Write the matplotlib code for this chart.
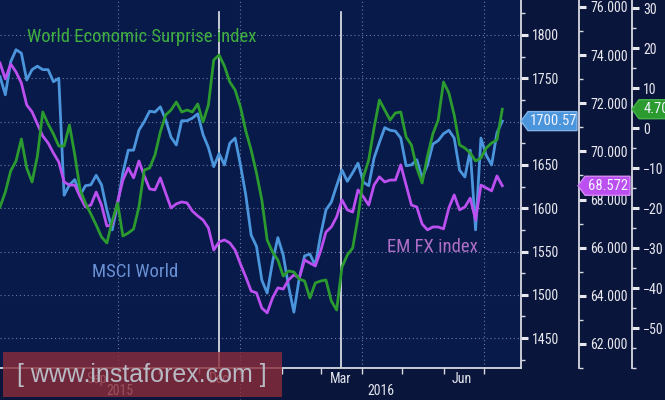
import matplotlib
matplotlib.use("Agg")
import matplotlib.pyplot as plt
import matplotlib.dates as mdates
import matplotlib.transforms as mtransforms
from matplotlib.patches import Rectangle, Polygon
from matplotlib.ticker import MultipleLocator, FixedLocator, FixedFormatter, FuncFormatter
import pandas as pd

plt.rcParams["font.family"] = ["Roboto Condensed", "Archivo Narrow", "Asap Condensed", "DejaVu Sans"]

# -- data (every 4 days) --
dates = pd.date_range("2015-07-05", periods=95, freq="4D")

msci_world = [
    1752, 1731, 1769, 1783, 1779, 1748, 1760, 1764, 1760, 1760,
    1746, 1750, 1615, 1627, 1633, 1615, 1626, 1627, 1638, 1627,
    1598, 1575, 1604, 1641, 1667, 1667, 1690, 1700, 1712, 1711,
    1717, 1702, 1682, 1673, 1701, 1701, 1704, 1709, 1685, 1670,
    1648, 1663, 1650, 1675, 1681, 1650, 1615, 1569, 1556, 1517,
    1502, 1538, 1566, 1546, 1510, 1480, 1519, 1545, 1547, 1534,
    1569, 1598, 1607, 1626, 1644, 1631, 1641, 1652, 1630, 1626,
    1658, 1676, 1693, 1690, 1689, 1681, 1649, 1650, 1656, 1635,
    1650, 1674, 1678, 1686, 1690, 1681, 1644, 1636, 1667, 1575,
    1681, 1661, 1650, 1687, 1700.57,
]

em_fx = [
    73.67, 73.01, 73.63, 73.30, 72.84, 71.93, 71.64, 71.14, 70.64, 70.35,
    69.93, 69.56, 68.73, 68.60, 68.60, 68.11, 67.69, 67.77, 68.31, 67.77,
    66.90, 66.94, 67.90, 68.81, 69.31, 68.90, 69.60, 68.98, 68.44, 68.40,
    68.90, 68.27, 67.65, 67.82, 67.90, 67.86, 67.52, 67.32, 67.15, 66.82,
    65.90, 66.24, 66.32, 66.20, 65.90, 65.32, 64.78, 64.20, 64.12, 63.49,
    63.29, 63.91, 64.33, 64.28, 64.66, 64.87, 64.74, 65.49, 65.36, 65.24,
    65.86, 66.65, 66.86, 67.28, 67.98, 67.57, 67.48, 68.40, 68.11, 67.77,
    68.60, 68.94, 68.73, 68.81, 68.81, 69.44, 68.60, 67.77, 67.69, 66.98,
    66.74, 66.86, 66.86, 66.78, 67.65, 68.19, 67.57, 67.69, 68.06, 67.15,
    68.60, 68.48, 68.36, 68.98, 68.572,
]

surprise = [
    -19.75, -16, -10.75, -8.25, -2.75, -10, -13.5, -7, 4, 1,
    -1.5, -4.5, -4.5, 0.75, -6.75, -15.5, -18.75, -21.5, -24.25, -27.25,
    -28.75, -23.25, -18.75, -27, -26.25, -25.25, -19.75, -10.5, -10, -6.75,
    -1, 3.25, 4.5, 6.5, 4, 4.5, 4, 6, 1.5, 5.75,
    17, 18.25, 15.5, 11.5, 9.5, 5.25, -0.75, -5.5, -11.25, -18,
    -28, -31, -33, -37, -35.75, -36, -37.75, -38.25, -42.5, -38.75,
    -38.25, -38, -43.25, -45.5, -34.75, -31.75, -30, -22.25, -12.25, -8,
    0, 7, 4.5, 2, 3.75, 4, -2.25, -4.25, -10, -13.75,
    -7, -1.5, 2, 11.5, 8.75, 3.25, -4.25, -5, -6.25, -8.25,
    -7.5, -5, -3.75, -3, 4.70,
]

event_dates = ["2015-12-16", "2016-03-16"]
quarter_dates = ["2015-10-01", "2016-01-01", "2016-04-01", "2016-07-01"]
month_labels = ["Sep", "Dec", "Mar", "Jun"]
month_label_dates = ["2015-09-15", "2015-12-16", "2016-03-16", "2016-06-15"]
years = ["2015", "2016"]
year_label_dates = ["2015-10-03", "2016-04-15"]

# -- colours --
FIG_BG = "#0a153b"
AX_BG = "#071a4a"
TXT = "#e4e6ee"
GRID = "#8591b3"
BLUE = "#4b95dc"
PURPLE = "#bb4ff0"
GREEN = "#2b9a2f"

fig = plt.figure(figsize=(6.65, 4.0), dpi=100, facecolor=FIG_BG)
ax = fig.add_axes([0.0, 0.08, 521 / 665, 0.92])
ax.set_facecolor(AX_BG)
ax_fx = ax.twinx()
ax_sur = ax.twinx()

# lines
ax.plot(dates, msci_world, color=BLUE, lw=2.0, zorder=3)
ax_fx.plot(dates, em_fx, color=PURPLE, lw=2.0, zorder=3)
ax_sur.plot(dates, surprise, color=GREEN, lw=2.0, zorder=3)

ax.set_xlim(pd.Timestamp("2015-07-05"), pd.Timestamp("2016-07-29"))
ax.set_ylim(1415.5, 1840.4)
ax_fx.set_ylim(61.0, 76.29)
ax_sur.set_ylim(-60, 32)

# grid
ax.set_yticks(range(1450, 1801, 50))
ax.yaxis.set_minor_locator(MultipleLocator(25))
ax.grid(axis="y", which="major", color=GRID, lw=0.8, ls=(0, (1, 2.5)), alpha=0.8)
for d in quarter_dates:
    ax.axvline(pd.Timestamp(d), color=GRID, lw=0.8, ls=(0, (1, 2.5)), alpha=0.8, zorder=1)
ax.plot([pd.Timestamp("2016-01-01")] * 2, [0, -0.09], transform=ax.get_xaxis_transform(),
        color=GRID, lw=0.8, ls=(0, (1, 2.5)), clip_on=False)
for d in event_dates:
    ax.axvline(pd.Timestamp(d), ymax=0.967, color="#e8e8ee", lw=1.2, zorder=2)

# spines
for a in (ax, ax_fx, ax_sur):
    for s in ("left", "top"):
        a.spines[s].set_visible(False)
    a.spines["right"].set_color("#d8dae2")
    a.spines["right"].set_linewidth(1.3)
ax_fx.spines["bottom"].set_visible(False)
ax_sur.spines["bottom"].set_visible(False)
ax.spines["bottom"].set_color("#d8dae2")
ax.spines["bottom"].set_linewidth(1.3)
ax_fx.spines["right"].set_position(("axes", 579 / 521))
ax_sur.spines["right"].set_position(("axes", 632 / 521))

ax.yaxis.tick_right()
ax_fx.set_yticks(range(62, 77, 2))
ax_fx.yaxis.set_minor_locator(MultipleLocator(1))
ax_fx.yaxis.set_major_formatter(FuncFormatter(lambda v, p: f"{v:.3f}"))
ax_sur.set_yticks(range(-50, 31, 10))
ax_sur.yaxis.set_minor_locator(MultipleLocator(5))
for a in (ax, ax_fx, ax_sur):
    a.tick_params(axis="y", which="major", direction="out", length=5, width=2.2,
                  colors="#e8e8ee", labelsize=10, pad=3)
    a.tick_params(axis="y", which="minor", direction="out", length=3, width=1, colors="#d8dae2")

# x axis
ax.xaxis.set_major_locator(FixedLocator(mdates.date2num(pd.to_datetime(month_label_dates))))
ax.xaxis.set_major_formatter(FixedFormatter(month_labels))
ax.xaxis.set_minor_locator(mdates.MonthLocator())
ax.tick_params(axis="x", which="major", length=0, colors=TXT, labelsize=10, pad=3)
ax.tick_params(axis="x", which="minor", length=4, width=1, color="#d8dae2")
for y, d in zip(years, year_label_dates):
    ax.text(pd.Timestamp(d), -0.063, y, transform=ax.get_xaxis_transform(), ha="center",
            va="center", color=TXT, fontsize=10)

# series names
ax.text(0.052, 0.899, "World Economic Surprise index", transform=ax.transAxes, color="#3fae3f",
        fontsize=13.5, va="center", ha="left")
ax.text(0.177, 0.261, "MSCI World", transform=ax.transAxes, color="#6a90d4",
        fontsize=13.5, va="center", ha="left")
ax.text(0.743, 0.329, "EM FX index", transform=ax.transAxes, color="#b06ec6",
        fontsize=13.5, va="center", ha="left")


# last value tags: pentagon pointing at the axis
def tag(a, x_axes, value, text, color, edge, width_px, height_px=19, tip_px=7):
    base = mtransforms.blended_transform_factory(a.transAxes, a.transData)
    trans = fig.dpi_scale_trans + mtransforms.ScaledTranslation(x_axes, value, base)
    h = height_px / 2
    verts = [(0, 0), (tip_px, h), (width_px, h), (width_px, -h), (tip_px, -h)]
    a.add_patch(Polygon([(vx / 100, vy / 100) for vx, vy in verts], closed=True, transform=trans,
                        fc=color, ec=edge, lw=1, clip_on=False, zorder=6))
    text_trans = mtransforms.offset_copy(base, fig=fig, x=(tip_px + width_px) / 2 + 1, y=0, units="dots")
    a.text(x_axes, value, text, transform=text_trans, ha="center", va="center",
           color="#f2f4ff", fontsize=10.5, clip_on=False, zorder=7)


tag(ax, 1.0, msci_world[-1], "1700.57", BLUE, "#7fb6ea", 56)
tag(ax_fx, 578 / 521, em_fx[-1], "68.572", PURPLE, "#d58af5", 52)
tag(ax_sur, 632 / 521, surprise[-1], "4.70", GREEN, "#47b24b", 40)

# watermark
fig.patches.append(Rectangle((3 / 665, 3 / 400), 279 / 665, 45 / 400, transform=fig.transFigure,
                             fc="#8a2c3a", alpha=0.8, ec="none", zorder=10))
fig.text(142 / 665, 25 / 400, "[ www.instaforex.com ]", ha="center", va="center",
         color="#b8bac4", fontsize=18, zorder=11, family=["Liberation Sans", "DejaVu Sans"])

fig.savefig("out.png", dpi=100, facecolor=FIG_BG)
